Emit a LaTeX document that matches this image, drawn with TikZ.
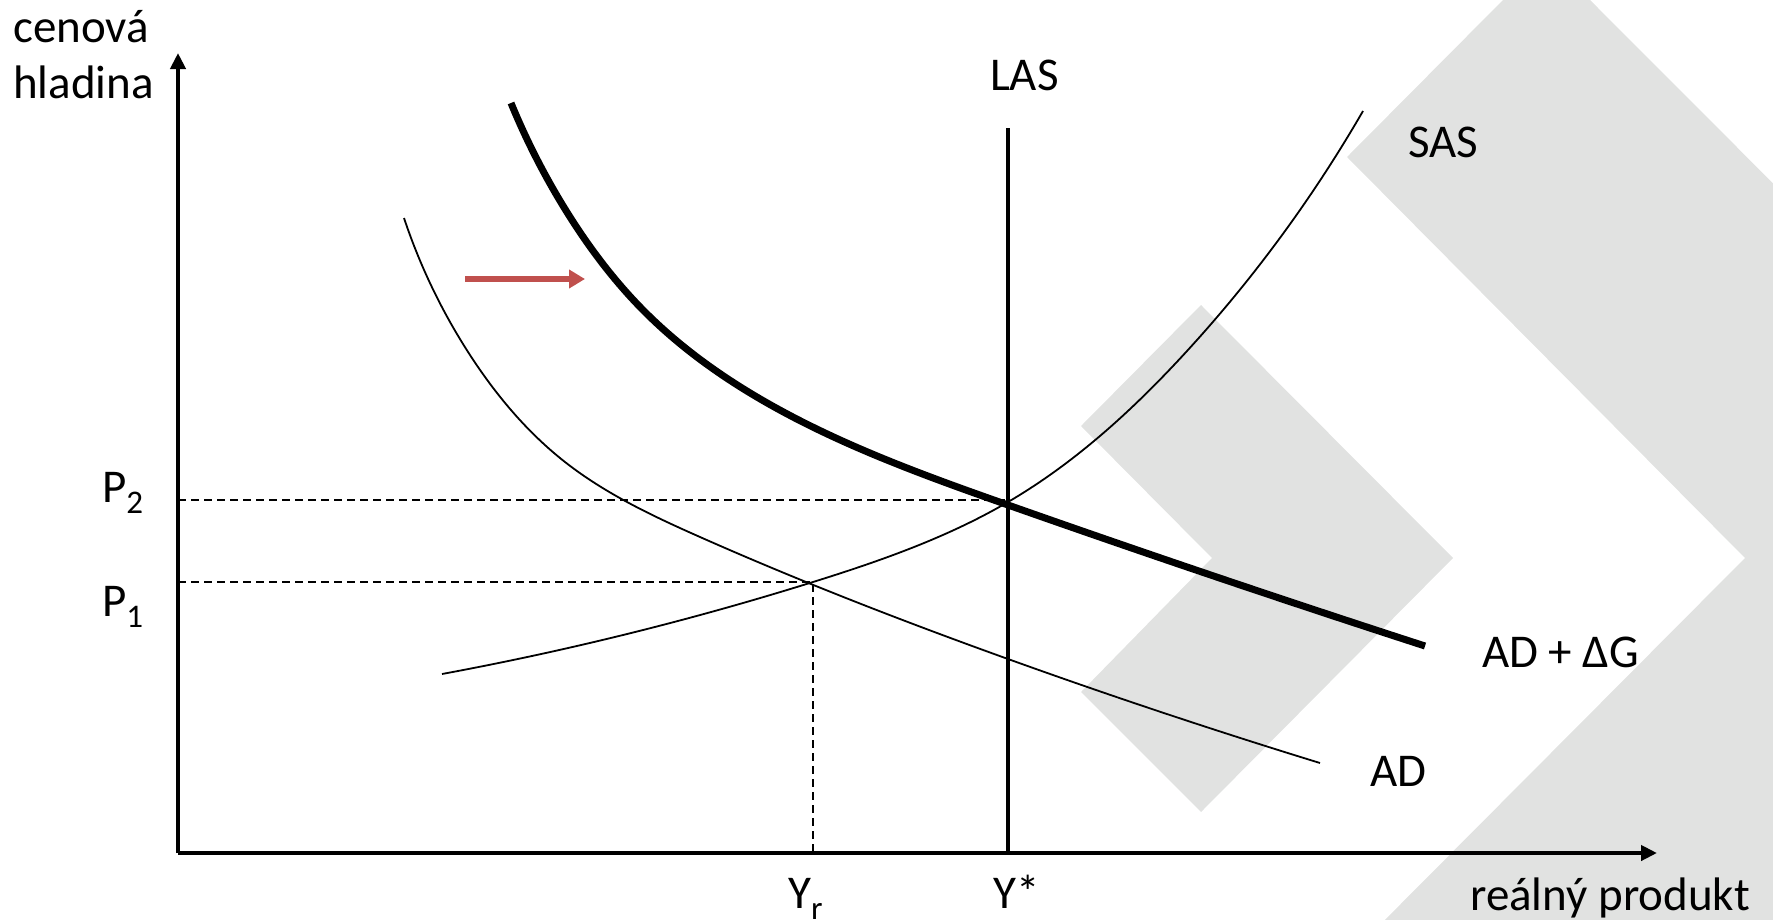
\documentclass[tikz,border=0pt]{standalone}
\usepackage{fontspec}
\setmainfont{Carlito}
\usetikzlibrary{arrows.meta,hobby}
\definecolor{bggray}{RGB}{225,226,225}
\definecolor{arrred}{RGB}{192,80,77}
\newcommand{\subs}[1]{\raisebox{-11pt}{\fontsize{33}{33}\selectfont #1}}
\begin{document}
\begin{tikzpicture}[x=1pt,y=-1pt,
  lbl/.style={inner sep=0pt, font=\fontsize{47}{56}\selectfont, anchor=base west},
  axis/.style={line width=4pt, -{Triangle[length=16pt,width=15pt]}},
  thincurve/.style={line width=1.8pt, use Hobby shortcut},
  thickcurve/.style={line width=7pt, use Hobby shortcut},
  guide/.style={line width=1.5pt, dash pattern=on 8pt off 5pt},
  chevron/.style={fill=bggray, draw=none}]
\useasboundingbox (0,0) rectangle (1773,919);
\begin{scope}
\clip (0,0) rectangle (1773,919);
% big chevron
\fill[chevron] (1503,0) -- (1590,0) -- (2146,557) -- (1784,919) -- (1750,960) -- (1345,960) -- (1745,558) -- (1347,157) -- cycle;
% small chevron
\fill[chevron] (1201,305) -- (1453,558) -- (1201,812) -- (1081,692) -- (1212,558) -- (1081,426) -- cycle;
\end{scope}

% axes
\coordinate (O) at (178,853);
\coordinate (ytip) at (178,53);
\coordinate (xtip) at (1657,853);
\draw[axis] (O) -- (ytip);
\draw[axis] (O) -- (xtip);

% guide lines
\coordinate (p2a) at (178,500);
\coordinate (E2) at (1008,500);
\coordinate (p1a) at (178,582);
\coordinate (E1) at (813,582);
\coordinate (yra) at (813,853);
\draw[guide] (p2a) -- (E2);
\draw[guide] (p1a) -- (E1) -- (yra);

% LAS
\coordinate (lastop) at (1008,128);
\coordinate (lasbot) at (1008,853);
\draw[line width=4pt] (lastop) -- (lasbot);

% SAS
\draw[thincurve] (442,674) .. (813,582) .. (1008,502) .. (1187,351) .. (1363,111);
% AD
\draw[thincurve] (404,218) .. (470,355) .. (565,462) .. (700,537) .. (1008,659) .. (1320,763);
% AD + dG
\draw[thickcurve] (511,103) .. (565,209) .. (644,311) .. (791,416) .. (1008,505) .. (1425,646);

% red shift arrow
\coordinate (ra) at (465,279);
\coordinate (rb) at (585,279);
\draw[arrred, line width=6pt, -{Triangle[length=16pt,width=18pt]}] (ra) -- (rb);

% labels
\node[lbl] (cen) at (13,42) {cenová};
\node[lbl] (hla) at (13,98) {hladina};
\node[lbl] (P2) at (102,502) {P\subs{2}};
\node[lbl] (P1) at (102,616) {P\subs{1}};
\node[lbl] (Yr) at (788,908) {Y\subs{r}};
\node[lbl] (Ys) at (993,908) {Y*};
\node[lbl] (LAS) at (990,90) {LAS};
\node[lbl] (SAS) at (1408,157) {SAS};
\node[lbl] (ADG) at (1482,667) {AD + ΔG};
\node[lbl] (AD) at (1370,786) {AD};
\node[lbl] (rp) at (1470,910) {reálný produkt};
\end{tikzpicture}
\end{document}
